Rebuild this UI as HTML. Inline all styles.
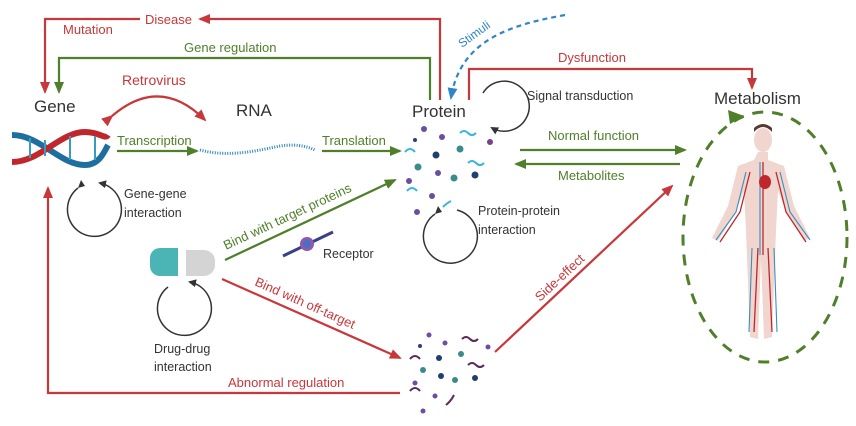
<!DOCTYPE html>
<html><head><meta charset="utf-8"><style>
html,body{margin:0;padding:0;background:#fff;width:856px;height:426px;overflow:hidden}
text{font-family:"Liberation Sans",sans-serif}
</style></head><body>
<svg width="856" height="426" viewBox="0 0 856 426" xmlns="http://www.w3.org/2000/svg">
<defs>
<marker id="rb" markerWidth="12" markerHeight="10" refX="10" refY="5" orient="auto" markerUnits="userSpaceOnUse"><path d="M0,0 L12,5 L0,10 Z" fill="#c8373a"/></marker>
<marker id="g" markerWidth="12" markerHeight="10" refX="10" refY="5" orient="auto" markerUnits="userSpaceOnUse"><path d="M0,0 L12,5 L0,10 Z" fill="#4f7f2a"/></marker>
<marker id="b" markerWidth="12" markerHeight="10" refX="10" refY="5" orient="auto" markerUnits="userSpaceOnUse"><path d="M0,0 L12,5 L0,10 Z" fill="#2e86c8"/></marker>
<marker id="k" markerWidth="8" markerHeight="8" refX="6" refY="4" orient="auto" markerUnits="userSpaceOnUse"><path d="M0,0 L8,4 L0,8 Z" fill="#333"/></marker>
</defs>
<g fill="none" stroke-width="2.2">
<path d="M440,100 V19 H200" stroke="#c8373a" marker-end="url(#rb)"/>
<path d="M140,19 H45 V92" stroke="#c8373a" marker-end="url(#rb)"/>
<path d="M430,100 V58 H59 V92" stroke="#4f7f2a" marker-end="url(#g)"/>
<path d="M469,100 V69 H752 V88" stroke="#c8373a" marker-end="url(#rb)"/>
<path d="M565,15 C510,25 460,40 451,98" stroke="#2e86c8" stroke-dasharray="5,4" marker-end="url(#b)"/>
<path d="M112,116 Q160,75 205,120" stroke="#c8373a" marker-start="url(#rb)" marker-end="url(#rb)"/>
<path d="M117,151 H197" stroke="#4f7f2a" marker-end="url(#g)"/>
<path d="M322,151 H400" stroke="#4f7f2a" marker-end="url(#g)"/>
<path d="M520,150 H685" stroke="#4f7f2a" marker-end="url(#g)"/>
<path d="M680,164 H516" stroke="#4f7f2a" marker-end="url(#g)"/>
<path d="M225,260 L395,180" stroke="#4f7f2a" marker-end="url(#g)"/>
<path d="M222,279 L400,358" stroke="#c8373a" marker-end="url(#rb)"/>
<path d="M495,352 L672,186" stroke="#c8373a" marker-end="url(#rb)"/>
<path d="M400,393 H48 V188" stroke="#c8373a" marker-end="url(#rb)"/>
<ellipse cx="765" cy="237" rx="82" ry="125" stroke="#4f7f2a" stroke-width="3" stroke-dasharray="11,9"/>
</g>
<path d="M728,110 L744,116 L730,124 Z" fill="#4f7f2a"/>
<g fill="none" stroke="#333" stroke-width="1.5">
<path d="M78,188 A27,27 0 1 0 100,183" marker-end="url(#k)"/>
<path d="M168,287 A27,27 0 1 0 190,282" marker-end="url(#k)"/>
<path d="M435,214 A27,27 0 1 0 457,210"/>
<path d="M483,93 A25,25 0 1 1 492,128" marker-end="url(#k)"/>
</g>
<path d="M78,188 l3,-8 l4,6z" fill="#333"/>
<path d="M435,214 l3,-8 l4,6z" fill="#333"/>
<g stroke-width="6" fill="none">
<path d="M12,135 C40,135 60,165 85,165 C100,165 105,150 108,145" stroke="#1e6fa0"/>
<path d="M12,162 C40,162 60,132 85,132 C100,132 105,140 108,135" stroke="#c0272d"/>
</g>
<g stroke="#3a9bc0" stroke-width="2"><path d="M30,138V158M45,140V156M70,136V160M95,136V160"/></g>
<path d="M200,150 C230,158 260,150 280,146 C300,143 310,148 315,150" stroke="#2b86b8" stroke-width="3" fill="none" stroke-dasharray="1,1.5"/>
<g>
<circle cx="424" cy="129" r="3" fill="#6a4ea0"/><circle cx="415" cy="140" r="2" fill="#2b3f7a"/><circle cx="442" cy="137" r="3" fill="#6a4ea0"/><circle cx="460" cy="149" r="3.5" fill="#3b8b8b"/><circle cx="490" cy="142" r="3" fill="#7a3f8a"/><circle cx="436" cy="155" r="3.5" fill="#1f3f6f"/><circle cx="418" cy="167" r="3.5" fill="#3b8b8b"/><circle cx="438" cy="173" r="3" fill="#6a4ea0"/><circle cx="454" cy="178" r="3.5" fill="#3b8b8b"/><circle cx="475" cy="175" r="3.5" fill="#1f3f6f"/><circle cx="409" cy="181" r="3" fill="#6a4ea0"/><circle cx="432" cy="196" r="3" fill="#6a4ea0"/><circle cx="417" cy="212" r="3" fill="#6a4ea0"/>
<g stroke="#3ab5e0" stroke-width="2" fill="none"><path d="M460,133 q4,-4 8,0 t8,0"/><path d="M405,152 q5,-6 10,0"/><path d="M468,163 q4,-4 8,0 t8,0"/><path d="M407,191 q5,-6 10,0"/><path d="M443,207 q4,-4 8,-6"/></g>
</g>
<g>
<circle cx="429" cy="335" r="2.5" fill="#6a4ea0"/><circle cx="445" cy="343" r="2.5" fill="#6a4ea0"/><circle cx="420" cy="346" r="2" fill="#2b3f7a"/><circle cx="488" cy="347" r="2.5" fill="#6a4ea0"/><circle cx="439" cy="358" r="3" fill="#1f3f6f"/><circle cx="461" cy="354" r="3" fill="#3b8b8b"/><circle cx="423" cy="370" r="3" fill="#3b8b8b"/><circle cx="441" cy="376" r="3" fill="#1f3f6f"/><circle cx="455" cy="380" r="3" fill="#3b8b8b"/><circle cx="475" cy="378" r="3" fill="#1f3f6f"/><circle cx="415" cy="383" r="2.5" fill="#6a4ea0"/><circle cx="435" cy="396" r="2.5" fill="#6a4ea0"/><circle cx="423" cy="411" r="2.5" fill="#6a4ea0"/>
<g stroke="#5a2a5a" stroke-width="2" fill="none"><path d="M462,339 q4,-4 8,0 t8,0"/><path d="M410,359 q5,-6 10,0"/><path d="M468,365 q4,-4 8,0 t8,0"/><path d="M410,391 q5,-6 10,0"/><path d="M446,405 q5,-4 8,-10"/></g>
</g>
<path d="M150,258 a10,10 0 0 1 10,-10 h18 v28 h-18 a10,10 0 0 1 -10,-10z" fill="#4bb5b5"/>
<path d="M186,250 h18 a11,11 0 0 1 11,11 v4 a11,11 0 0 1 -11,11 h-18z" fill="#d4d4d4"/>
<path d="M283,256 L333,232" stroke="#3a3f8a" stroke-width="3"/>
<circle cx="307" cy="244" r="7" fill="#8e5ab0"/><circle cx="307" cy="244" r="4" fill="#4a6ec0"/>
<!-- body -->
<g>
<ellipse cx="763" cy="140" rx="9" ry="12" fill="#f0d6cf"/>
<path d="M754,132 q9,-10 18,0 v-4 q-9,-8 -18,0z" fill="#5a3a30"/>
<path d="M758,152 h10 v8 l16,6 l10,40 l16,32 l-6,3 l-18,-30 l-8,-20 l-2,40 l-4,106 l-8,2 l-3,-80 l-3,80 l-8,-2 l-4,-106 l-2,-40 l-8,20 l-18,30 l-6,-3 l16,-32 l10,-40 l16,-6z" fill="#f0d6cf"/>
<path d="M763,162 V255 M758,248 l-4,84 M768,248 l4,84 M750,172 l-10,40 l-20,30 M776,172 l10,40 l20,30" stroke="#c0272d" stroke-width="1.3" fill="none"/>
<path d="M760,162 V255 M752,248 l-3,84 M774,248 l3,84 M746,172 l-10,40 l-20,28 M780,172 l10,40 l20,28" stroke="#3a8ec0" stroke-width="1.1" fill="none"/>
<ellipse cx="765" cy="182" rx="6" ry="7" fill="#c0272d"/>
</g>
<g font-size="13" fill="#c8373a">
<text x="145" y="24">Disease</text>
<text x="63" y="34">Mutation</text>
<text x="122" y="85" font-size="14">Retrovirus</text>
<text x="558" y="62">Dysfunction</text>
<text x="228" y="387">Abnormal regulation</text>
<text transform="translate(254,285) rotate(24)">Bind with off-target</text>
<text transform="translate(540,302) rotate(-43)">Side-effect</text>
</g>
<g font-size="13" fill="#4f7f2a">
<text x="184" y="52">Gene regulation</text>
<text x="117" y="145">Transcription</text>
<text x="322" y="145">Translation</text>
<text x="548" y="140">Normal function</text>
<text x="558" y="180">Metabolites</text>
<text transform="translate(226,250) rotate(-25)">Bind with target proteins</text>
</g>
<text transform="translate(462,48) rotate(-36)" font-size="12" fill="#2e86c8">Stimuli</text>
<g fill="#333" font-size="12.5">
<text x="34" y="112" font-size="17">Gene</text>
<text x="236" y="116" font-size="17">RNA</text>
<text x="412" y="117" font-size="17">Protein</text>
<text x="714" y="104" font-size="17">Metabolism</text>
<text x="527" y="100">Signal transduction</text>
<text x="124" y="198">Gene-gene</text>
<text x="124" y="217">interaction</text>
<text x="478" y="215">Protein-protein</text>
<text x="478" y="234">interaction</text>
<text x="323" y="258">Receptor</text>
<text x="154" y="353">Drug-drug</text>
<text x="154" y="371">interaction</text>
</g>
</svg>
</body></html>
